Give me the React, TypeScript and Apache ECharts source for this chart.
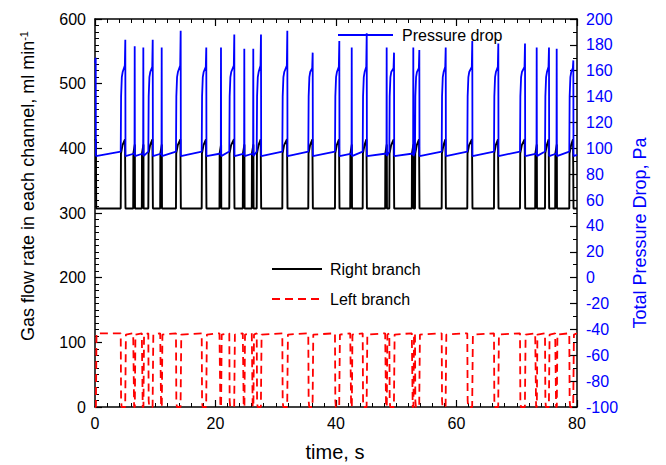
import { useEffect, useRef } from 'react';
import * as echarts from 'echarts';

// ---- data ----
// big plug events: rise time, peak time (s), pressure plateau and peak (Pa)
const bigRise = [4.27, 8.85, 13.44, 17.71, 22.29, 26.84, 31.09, 35.4, 39.83, 44.43, 48.85, 53.11, 57.54, 61.79, 66.22, 70.54, 74.69, 78.72];
const bigPeak = [5.03, 9.58, 14.22, 18.47, 23.12, 27.55, 31.92, 36.13, 40.55, 45.1, 49.63, 53.83, 58.21, 62.62, 66.94, 71.37, 75.35, 79.39];
const bigPeakPressure = [184, 184, 191, 178, 188, 188, 191, 174, 183, 189, 174, 176, 178, 183, 181, 181, 178, 168];
const bigPlateauPressure = [164, 163, 164, 163, 164, 164, 164, 162, 163, 163, 162, 162, 163, 163, 163, 163, 163, 162];
const bigRisePressure = [140, 155, 159]; // rounded front of each plug
// short spikes
const thinTime = [6.59, 8.02, 11.07, 20.91, 24.78, 26.27, 42.61, 48.41, 52.83, 73.31, 76.63];
const thinPeakPressure = [179, 178, 178, 178, 177, 177, 178, 178, 178, 178, 177];
// start of record (end of a plug at t = 0)
const startPressure: [number, number][] = [[0, 166], [0.12, 170], [0.15, 94]];
const startRight: [number, number][] = [[0, 412], [0.15, 414], [0.2, 307]];
const startLeft: [number, number][] = [[0, 0], [0.15, 0], [0.25, 114]];
// levels
const pressureBaseAfter = 94;
const pressureBaseBefore = 97.5;
const pressureBaseThin = 96;
const rightBase = 307;
const rightRise = 392;
const rightMid = 405;
const rightHigh = 414;
const rightThin = 406;
const leftBase = 114;
const leftReturn = 112;
const xTicks = { min: 0, max: 80, interval: 20 };
const yLeftTicks = { min: 0, max: 600, interval: 100 };
const yRightTicks = { min: -100, max: 200, interval: 20 };

type Ev = { kind: 'big' | 'thin'; t: number; p: number; peak: number; plateau: number };

function buildSeries() {
  const events: Ev[] = [];
  bigRise.forEach((r, i) =>
    events.push({ kind: 'big', t: r, p: bigPeak[i], peak: bigPeakPressure[i], plateau: bigPlateauPressure[i] })
  );
  thinTime.forEach((t, i) => events.push({ kind: 'thin', t, p: t, peak: thinPeakPressure[i], plateau: 0 }));
  events.sort((a, b) => a.t - b.t);

  const pressure: [number, number][] = [...startPressure];
  const right: [number, number][] = [...startRight];
  const left: [number, number][] = [...startLeft];

  for (const e of events) {
    if (e.kind === 'big') {
      pressure.push(
        [e.t, pressureBaseBefore],
        [e.t + 0.06, bigRisePressure[0]],
        [e.t + 0.18, bigRisePressure[1]],
        [e.t + 0.32, bigRisePressure[2]],
        [e.p - 0.08, e.plateau],
        [e.p, e.peak],
        [e.p + 0.03, pressureBaseAfter]
      );
      right.push([e.t, rightBase], [e.t + 0.04, rightRise], [e.t + 0.3, rightMid], [e.p - 0.05, rightHigh], [e.p + 0.03, rightBase]);
      left.push([e.t, leftBase], [e.t + 0.06, 10], [e.t + 0.15, 0], [e.p - 0.02, 0], [e.p + 0.1, leftReturn]);
    } else {
      pressure.push([e.t - 0.03, pressureBaseThin], [e.t, e.peak], [e.t + 0.03, pressureBaseAfter]);
      right.push([e.t - 0.25, rightBase], [e.t - 0.22, rightRise], [e.t + 0.02, rightThin], [e.t + 0.05, rightBase]);
      left.push([e.t - 0.25, leftBase], [e.t - 0.1, 0], [e.t + 0.02, 0], [e.t + 0.12, leftReturn]);
    }
  }
  pressure.push([80, pressureBaseAfter + 1]);
  right.push([80, rightBase]);
  left.push([80, leftBase]);
  return { pressure, right, left };
}

const FONT = "'Liberation Sans', Arial, sans-serif";

export default function App() {
  const ref = useRef<HTMLDivElement>(null);
  useEffect(() => {
    if (!ref.current) return;
    const chart = echarts.init(ref.current, undefined, { renderer: 'svg' });
    const { pressure, right, left } = buildSeries();
    const axisLine = { show: true, onZero: false, lineStyle: { color: '#000', width: 1.5 } };
    const tick = { show: true, inside: true, length: 7, lineStyle: { color: '#000', width: 1.2 } };
    chart.setOption({
      animation: false,
      backgroundColor: '#fff',
      textStyle: { fontFamily: FONT },
      grid: { left: 95, right: 89, top: 19, bottom: 58, containLabel: false, outerBoundsMode: 'none' },
      legend: [
        {
          data: ['Pressure drop'],
          left: 337,
          top: 27,
          padding: 0,
          itemWidth: 55,
          itemHeight: 14,
          itemStyle: { opacity: 0 },
          textStyle: { fontSize: 16, color: '#000', fontFamily: FONT, padding: [0, 0, 0, 4] },
        },
        {
          data: ['Right branch', 'Left branch'],
          orient: 'vertical',
          left: 271,
          top: 261,
          padding: 0,
          itemGap: 14,
          itemWidth: 50,
          itemHeight: 14,
          itemStyle: { opacity: 0 },
          textStyle: { fontSize: 16, color: '#000', fontFamily: FONT, padding: [0, 0, 0, 3] },
        },
      ],
      xAxis: [
        {
          type: 'value',
          position: 'bottom',
          ...xTicks,
          axisLine,
          axisTick: tick,
          minorTick: { show: true, splitNumber: 10, length: 4, lineStyle: { color: '#000' } },
          splitLine: { show: false },
          axisLabel: { fontSize: 16, color: '#000', margin: 8, fontFamily: FONT },
        },
        {
          type: 'value',
          position: 'top',
          ...xTicks,
          axisLine,
          axisTick: tick,
          minorTick: { show: true, splitNumber: 10, length: 4, lineStyle: { color: '#000' } },
          splitLine: { show: false },
          axisLabel: { show: false },
        },
      ],
      yAxis: [
        {
          type: 'value',
          position: 'left',
          ...yLeftTicks,
          axisLine,
          axisTick: tick,
          minorTick: { show: true, splitNumber: 10, length: 4, lineStyle: { color: '#000' } },
          splitLine: { show: false },
          axisLabel: { fontSize: 16, color: '#000', margin: 9, fontFamily: FONT },
        },
        {
          type: 'value',
          position: 'right',
          ...yRightTicks,
          axisLine,
          axisTick: tick,
          minorTick: { show: true, splitNumber: 2, length: 4, lineStyle: { color: '#000' } },
          splitLine: { show: false },
          axisLabel: { fontSize: 16, color: '#0000ff', margin: 9, fontFamily: FONT },
        },
      ],
      series: [
        {
          name: 'Right branch',
          type: 'line',
          xAxisIndex: 0,
          yAxisIndex: 0,
          data: right,
          symbol: 'none',
          lineStyle: { color: '#000', width: 1.9 },
          itemStyle: { color: '#000' },
        },
        {
          name: 'Left branch',
          type: 'line',
          xAxisIndex: 0,
          yAxisIndex: 0,
          data: left,
          symbol: 'none',
          lineStyle: { color: '#ff0000', width: 1.8, type: [8, 5] },
          itemStyle: { color: '#ff0000' },
        },
        {
          name: 'Pressure drop',
          type: 'line',
          xAxisIndex: 0,
          yAxisIndex: 1,
          data: pressure,
          symbol: 'none',
          lineStyle: { color: '#0000ff', width: 1.8 },
          itemStyle: { color: '#0000ff' },
        },
      ],
      graphic: [
        {
          type: 'text',
          x: 335,
          y: 452,
          style: { text: 'time, s', font: `20px ${FONT}`, fill: '#000', textAlign: 'center', textVerticalAlign: 'middle' },
        },
        {
          type: 'text',
          x: 28,
          y: 186,
          rotation: Math.PI / 2,
          style: {
            text: 'Gas flow rate in each channel, ml min{sup|-1}',
            font: `18px ${FONT}`,
            fontSize: 18,
            fontFamily: FONT,
            fill: '#000',
            textAlign: 'center',
            textVerticalAlign: 'middle',
            rich: { sup: { fontSize: 11, fontFamily: FONT, verticalAlign: 'top', lineHeight: 20 } },
          },
        },
        {
          type: 'text',
          x: 640,
          y: 233,
          rotation: Math.PI / 2,
          style: { text: 'Total Pressure Drop, Pa', font: `18px ${FONT}`, fill: '#0000ff', textAlign: 'center', textVerticalAlign: 'middle' },
        },
      ],
    });
    return () => chart.dispose();
  }, []);
  return <div ref={ref} style={{ position: 'fixed', left: 0, top: 0, width: 666, height: 465 }} />;
}
